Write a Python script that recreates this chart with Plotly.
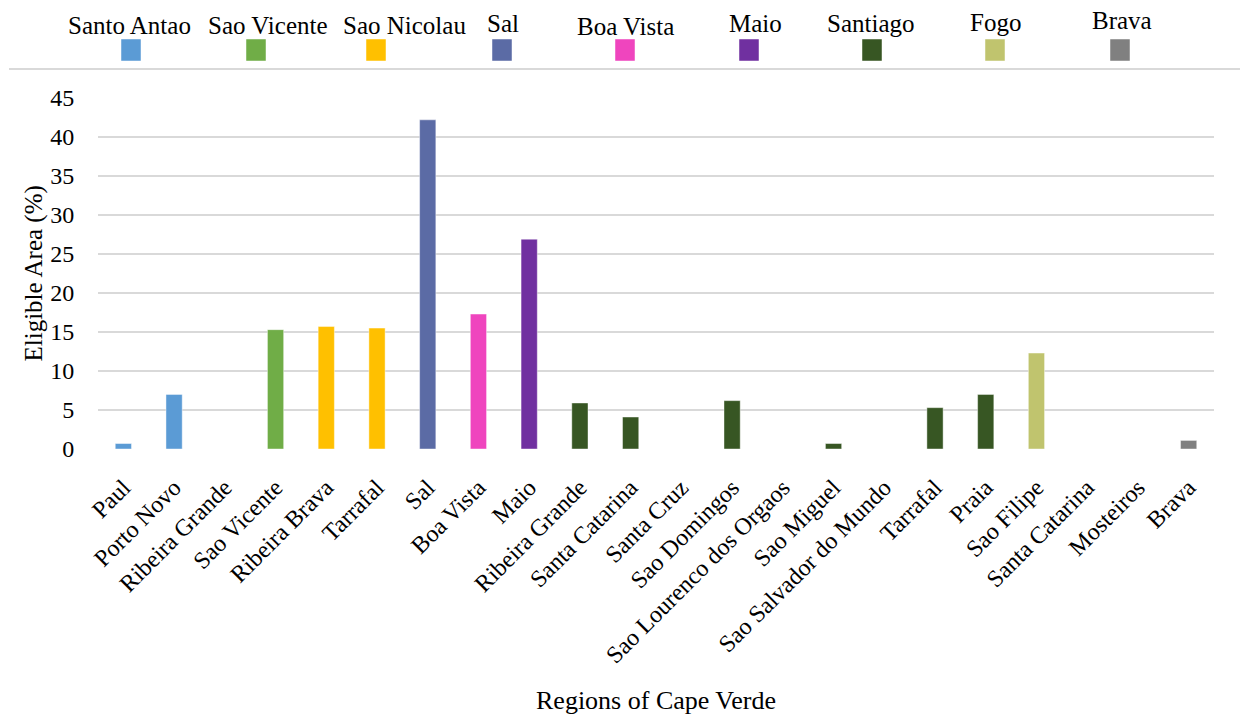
import plotly.graph_objects as go

# Municipalities in plotting order, the island each belongs to, and eligible area (%)
regions = [
    "Paul", "Porto Novo", "Ribeira Grande", "Sao Vicente", "Ribeira Brava",
    "Tarrafal", "Sal", "Boa Vista", "Maio", "Ribeira Grande", "Santa Catarina",
    "Santa Cruz", "Sao Domingos", "Sao Lourenco dos Orgaos", "Sao Miguel",
    "Sao Salvador do Mundo", "Tarrafal", "Praia", "Sao Filipe", "Santa Catarina",
    "Mosteiros", "Brava",
]
region_island = [
    "Santo Antao", "Santo Antao", "Santo Antao", "Sao Vicente", "Sao Nicolau",
    "Sao Nicolau", "Sal", "Boa Vista", "Maio", "Santiago", "Santiago",
    "Santiago", "Santiago", "Santiago", "Santiago",
    "Santiago", "Santiago", "Santiago", "Fogo", "Fogo",
    "Fogo", "Brava",
]
eligible_area = [
    0.7, 7.0, 0.0, 15.3, 15.7,
    15.5, 42.2, 17.3, 26.9, 5.9, 4.1,
    0.0, 6.2, 0.0, 0.7,
    0.0, 5.3, 7.0, 12.3, 0.0,
    0.0, 1.1,
]

islands = ["Santo Antao", "Sao Vicente", "Sao Nicolau", "Sal", "Boa Vista",
           "Maio", "Santiago", "Fogo", "Brava"]
island_colors = ["#5B9BD5", "#70AD47", "#FFC000", "#5B6BA5", "#EF45BE",
                 "#7030A0", "#375623", "#C0C46E", "#808080"]

y_ticks = [0, 5, 10, 15, 20, 25, 30, 35, 40, 45]

FONT = "Liberation Serif"
FS = 24
W, H = 1240, 718
ML, MR, MT, MB = 98, 26, 98, 269
PW, PH = W - ML - MR, H - MT - MB


def paper_x(px):
    return (px - ML) / PW


def paper_y(py):
    return (H - MB - py) / PH


fig = go.Figure()
positions = list(range(len(regions)))
for island, color in zip(islands, island_colors):
    xs = [p for p, isl in zip(positions, region_island) if isl == island]
    ys = [v for v, isl in zip(eligible_area, region_island) if isl == island]
    fig.add_trace(go.Bar(
        x=xs, y=ys, name=island, width=0.32,
        marker=dict(color=color, line=dict(color="rgba(255,255,255,0.55)", width=0.8)),
        showlegend=False,
    ))

# Legend across the top: island name above a colour swatch
label_px = [129, 268, 404, 503, 625, 755, 871, 995, 1122]
swatch_px = [131, 256, 376, 502, 625, 749, 872, 995, 1120]
label_py = [25, 25, 25, 24, 26, 23, 24, 22, 21]
annotations = []
shapes = []
for name, color, lx, sx, ly in zip(islands, island_colors, label_px, swatch_px, label_py):
    annotations.append(dict(
        x=paper_x(lx), y=paper_y(ly), xref="paper", yref="paper",
        text=name, showarrow=False, xanchor="center", yanchor="middle",
        font=dict(family=FONT, size=25, color="#000000"),
    ))
    shapes.append(dict(
        type="rect", xref="paper", yref="paper",
        xsizemode="pixel", ysizemode="pixel",
        xanchor=paper_x(sx), yanchor=paper_y(50),
        x0=-10, x1=10, y0=-11, y1=11,
        fillcolor=color, line=dict(color="rgba(255,255,255,0.6)", width=0.8),
    ))

# Thin separator under the legend
shapes.append(dict(
    type="line", xref="paper", yref="paper",
    x0=paper_x(9), x1=paper_x(1240), y0=paper_y(69), y1=paper_y(69),
    line=dict(color="#D9D9D9", width=2),
))

# Axis titles
annotations.append(dict(
    x=0.5, y=paper_y(700), xref="paper", yref="paper",
    text="Regions of Cape Verde", showarrow=False,
    xanchor="center", yanchor="middle",
    font=dict(family=FONT, size=26, color="#000000"),
))
annotations.append(dict(
    x=paper_x(33), y=0.5, xref="paper", yref="paper",
    text="Eligible Area (%)", showarrow=False, textangle=-90,
    xanchor="center", yanchor="middle",
    font=dict(family=FONT, size=25, color="#000000"),
))

fig.update_layout(
    width=W, height=H,
    margin=dict(l=ML, r=MR, t=MT, b=MB, autoexpand=False),
    paper_bgcolor="white", plot_bgcolor="white",
    barmode="overlay",
    font=dict(family=FONT, size=FS, color="#000000"),
    annotations=annotations, shapes=shapes,
    xaxis=dict(
        range=[-0.5, len(regions) - 0.5],
        tickmode="array", tickvals=positions, ticktext=regions,
        tickangle=-45, ticks="outside", ticklen=14, tickcolor="rgba(0,0,0,0)",
        showgrid=False, zeroline=False, showline=False,
        tickfont=dict(family=FONT, size=FS, color="#000000"),
        automargin=False,
    ),
    yaxis=dict(
        range=[0, 45], tickmode="array", tickvals=y_ticks,
        ticks="outside", ticklen=18, tickcolor="rgba(0,0,0,0)",
        showgrid=True, gridcolor="#D9D9D9", gridwidth=1.5,
        zeroline=False, showline=False,
        tickfont=dict(family=FONT, size=FS, color="#000000"),
        automargin=False,
    ),
)

fig.write_html("out.html")
